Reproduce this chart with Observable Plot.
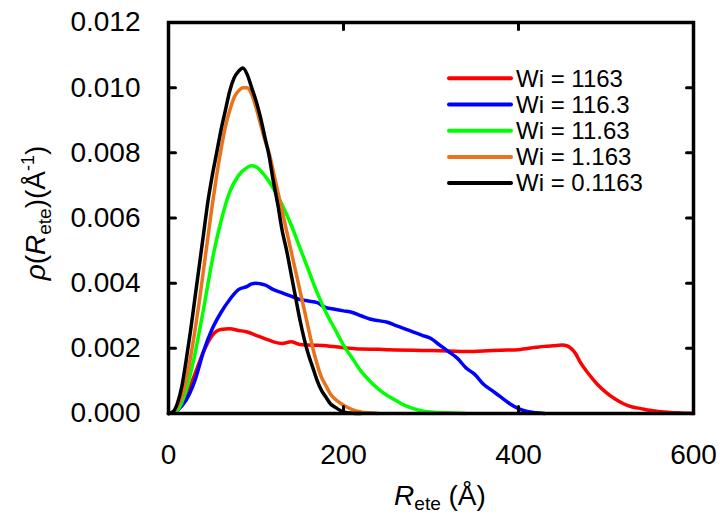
<!DOCTYPE html>
<html><head><meta charset="utf-8">
<script src="https://cdn.jsdelivr.net/npm/d3@7"></script>
<script src="https://cdn.jsdelivr.net/npm/@observablehq/plot@0.6"></script>
<style>body{margin:0;background:#fff} #chart svg{display:block}</style>
</head><body><div id="chart"></div><script>
const seriesLabels = ["Wi = 1163", "Wi = 116.3", "Wi = 11.63", "Wi = 1.163", "Wi = 0.1163"];
const seriesColors = ["#ff0000", "#0000ff", "#00ff00", "#e8731a", "#000000"];
const xTicks = [0, 200, 400, 600];
const yTicks = [0, 0.002, 0.004, 0.006, 0.008, 0.010, 0.012];

// Wi = 1163 (red)
const rRed = [0,10,20,30,40,50,60,70,80,90,100,110,120,130,140,150,160,180,200,220,240,260,280,300,320,340,360,380,400,420,430,440,450,455,460,465,470,480,490,500,510,520,530,540,550,560,570,580,590,600];
const pRed = [0,0.0001,0.0005,0.0012,0.0019,0.0024,0.00258,0.0026,0.00255,0.0025,0.0024,0.0023,0.0022,0.00215,0.0022,0.00212,0.0021,0.00208,0.00202,0.00198,0.00197,0.00195,0.00194,0.00193,0.00192,0.0019,0.00192,0.00194,0.00196,0.00203,0.00206,0.00208,0.0021,0.00208,0.0020,0.00185,0.0016,0.00122,0.0009,0.00065,0.00045,0.0003,0.0002,0.00015,0.0001,0.00006,0.00004,0.00002,0.00001,0];
// Wi = 116.3 (blue)
const rBlue = [0,10,20,30,40,50,60,70,80,90,95,100,105,110,120,130,140,150,160,170,180,190,200,210,220,230,240,250,260,270,280,290,300,310,320,330,340,350,360,370,380,390,400,410,420,430];
const pBlue = [0,0.0001,0.0004,0.0010,0.0019,0.0026,0.0031,0.0035,0.0038,0.0039,0.00398,0.0040,0.00398,0.00395,0.0038,0.0037,0.0036,0.0035,0.00345,0.0034,0.00325,0.0032,0.00315,0.0031,0.0030,0.0029,0.00285,0.0028,0.0027,0.0026,0.0025,0.0024,0.0023,0.0021,0.0019,0.0017,0.0014,0.0012,0.0009,0.0007,0.0005,0.0003,0.00015,0.00006,0.00002,0];
// Wi = 11.63 (green)
const rGreen = [0,10,20,30,40,50,60,70,80,90,95,100,110,120,130,140,150,160,170,180,190,200,210,220,230,240,250,260,270,280,290,300,320,340];
const pGreen = [0,0.0001,0.0007,0.0018,0.0032,0.0047,0.0059,0.0068,0.0073,0.00755,0.0076,0.00757,0.0073,0.0069,0.0064,0.0058,0.0051,0.0044,0.0037,0.0031,0.0026,0.0021,0.0017,0.0013,0.0010,0.00075,0.00055,0.0004,0.00025,0.00015,0.00008,0.00005,0.00002,0];
// Wi = 1.163 (orange)
const rOrange = [0,5,10,15,20,25,30,35,40,45,50,55,60,65,70,75,80,85,90,95,100,105,110,115,120,125,130,135,140,145,150,155,160,165,170,175,180,185,190,200,210,220,230,240];
const pOrange = [0,0.00004,0.0002,0.0005,0.0010,0.0017,0.0025,0.0034,0.0044,0.0054,0.0064,0.0073,0.0081,0.0088,0.0093,0.0097,0.0099,0.0100,0.0100,0.0098,0.0094,0.0089,0.0084,0.0080,0.0074,0.0068,0.0062,0.0056,0.0050,0.0044,0.0038,0.0032,0.0026,0.0020,0.0015,0.0011,0.00085,0.0006,0.00045,0.00025,0.00012,0.00005,0.00002,0];
// Wi = 0.1163 (black)
const rBlack = [0,5,10,15,20,25,30,35,40,45,50,55,60,65,70,75,80,85,90,95,100,105,110,115,120,125,130,135,140,145,150,155,160,165,170,175,180,185,190,200,210,220];
const pBlack = [0,0.00005,0.0003,0.0008,0.0016,0.0025,0.0035,0.0045,0.0055,0.0065,0.0073,0.0080,0.0087,0.0093,0.0099,0.0103,0.0105,0.0106,0.0104,0.0100,0.0096,0.0091,0.0085,0.0079,0.0071,0.0064,0.0056,0.0050,0.0043,0.0036,0.0029,0.0023,0.0018,0.0014,0.0010,0.0007,0.0005,0.0003,0.0002,0.00005,0.00001,0];

const seriesR = [rRed, rBlue, rGreen, rOrange, rBlack];
const seriesP = [pRed, pBlue, pGreen, pOrange, pBlack];
const rows = seriesLabels.flatMap((s, i) => seriesR[i].map((r, j) => ({series: s, r, p: seriesP[i][j]})));

const tickShape = {draw(context, l) { context.moveTo(0, 0); context.lineTo(0, -l); }};
const tickStyle = {length: 7, anchor: "start", shape: tickShape, stroke: "black", strokeWidth: 3};

const font = "'Liberation Sans', Arial, sans-serif";
const chart = Plot.plot({
  width: 720, height: 515,
  marginLeft: 168, marginRight: 27, marginTop: 22, marginBottom: 102,
  style: {fontFamily: font, fontSize: "28px", color: "black", background: "white"},
  x: {domain: [0, 600]},
  y: {domain: [0, 0.012]},
  color: {domain: seriesLabels, range: seriesColors},
  marks: [
    Plot.line(rows, {x: "r", y: "p", z: "series", stroke: "series", strokeWidth: 3.5, curve: "monotone-x"}),
    Plot.vector(xTicks, {x: d => d, frameAnchor: "bottom", rotate: 0, ...tickStyle}),
    Plot.vector(xTicks, {x: d => d, frameAnchor: "top", rotate: 180, ...tickStyle}),
    Plot.vector(yTicks, {y: d => d, frameAnchor: "left", rotate: 90, ...tickStyle}),
    Plot.vector(yTicks, {y: d => d, frameAnchor: "right", rotate: -90, ...tickStyle}),
    Plot.axisX(xTicks, {anchor: "bottom", tickSize: 0, tickPadding: 31, fontSize: 28, label: null}),
    Plot.axisY(yTicks, {anchor: "left", tickSize: 0, tickPadding: 28, fontSize: 28, tickFormat: d => d.toFixed(3), label: null}),
    Plot.frame({stroke: "black", strokeWidth: 3.5})
  ]
});
document.getElementById("chart").appendChild(chart);

const svg = d3.select(chart);
// x-axis title
const xt = svg.append("text").attr("x", 440).attr("y", 505).attr("text-anchor", "middle")
  .attr("font-family", font).attr("font-size", 28).attr("fill", "black");
xt.append("tspan").attr("font-style", "italic").text("R");
xt.append("tspan").attr("font-size", 19).attr("dy", 5).text("ete");
xt.append("tspan").attr("dy", -5).text(" (Å)");
// y-axis title
const yt = svg.append("text").attr("transform", "translate(45,213) rotate(-90)").attr("text-anchor", "middle")
  .attr("font-family", font).attr("font-size", 28).attr("fill", "black");
yt.append("tspan").attr("font-style", "italic").text("ρ");
yt.append("tspan").text("(");
yt.append("tspan").attr("font-style", "italic").text("R");
yt.append("tspan").attr("font-size", 19).attr("dy", 6).text("ete");
yt.append("tspan").attr("dy", -6).text(")(Å");
yt.append("tspan").attr("font-size", 18).attr("dy", -11).text("-1");
yt.append("tspan").attr("dy", 11).text(")");
// legend
const lg = svg.append("g").attr("text-anchor", "start");
seriesLabels.forEach((s, i) => {
  const y = 78.3 + 26.2 * i;
  lg.append("line").attr("x1", 449).attr("x2", 511).attr("y1", y).attr("y2", y)
    .attr("stroke", seriesColors[i]).attr("stroke-width", 4).attr("stroke-linecap", "round");
  lg.append("text").attr("x", 516).attr("y", y + 8.2).attr("text-anchor", "start").attr("font-family", font).attr("font-size", 24)
    .attr("fill", "black").text(s);
});
</script></body></html>
